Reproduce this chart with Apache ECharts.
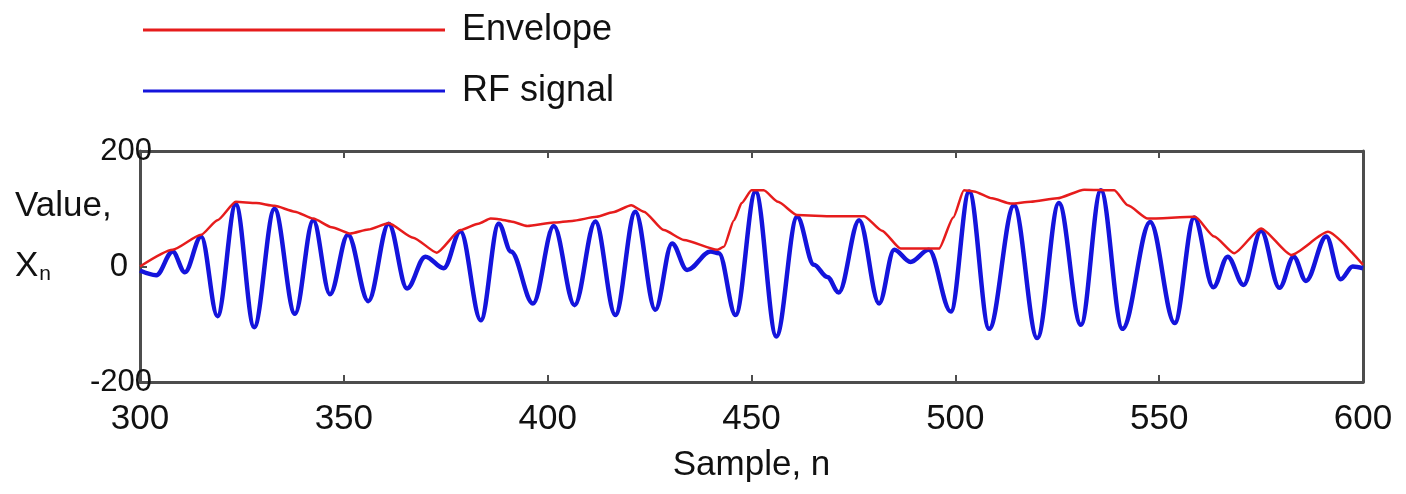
<!DOCTYPE html>
<html>
<head>
<meta charset="utf-8">
<title>RF signal and envelope</title>
<script src="https://cdn.jsdelivr.net/npm/echarts@6/dist/echarts.min.js"></script>
<style>
  html, body { margin: 0; padding: 0; background: #fff; }
  #chart { width: 1406px; height: 494px; }
</style>
</head>
<body>
<div id="chart"></div>
<script>
// sample index / value pairs (peaks, troughs, kinks)
const rfSamples = [300, 304, 308, 311, 315, 319, 323.5, 328, 333, 338, 342.5, 346.6, 351, 356, 361, 365.5, 370, 374.5, 378.6, 383.6,
  388, 391, 396.4, 401.5, 406.6, 411.7, 416.6, 421.5, 426.4, 430.5, 434.2, 440, 442, 446.1, 451, 456.1, 461.2, 465.3, 468.6, 471.4,
  476.4, 481.3, 485, 489, 493.5, 498.9, 503.4, 508.3, 514.4, 520.1, 525.4, 530.8, 535.7, 541, 547.8, 553.8, 558.6, 563.3, 566.8, 570.7,
  575, 579.5, 583, 586, 591, 594.5, 597.5, 600];
const rfValues = [-7, -15, 26, -10, 52, -86, 108, -105, 100, -82, 80, -48, 55, -60, 74, -38, 17, -3, 61, -93,
  74, 26, -64, 70, -67, 78, -84, 95, -75, 40, -6, 26, 23, -84, 130, -121, 86, 3, -18, -45,
  80, -64, 29, 8, 29, -78, 130, -108, 106, -124, 110, -101, 132, -108, 77, -98, 85, -36, 17, -32,
  62, -37, 17, -25, 52, -22, 0, -3];

const envSamples = [300, 308, 315, 319, 323.5, 328.5, 333, 338, 342.5, 347, 351.6, 356, 361, 367, 372.8, 378.6, 383, 386, 388, 391,
  395, 401.5, 406, 412, 416, 420.5, 423.6, 428.5, 433.4, 441.6, 443.2, 445.7, 447.6, 450, 453, 456.5, 461.2, 470, 477.6, 482,
  486.6, 496, 499.5, 502.1, 504.6, 509, 513.6, 518.5, 525, 531.6, 539, 542.3, 547.2, 558.8, 563.5, 568.4, 575, 582.4, 591.4, 600];
const envValues = [0, 29, 55, 80, 112, 110, 105, 95, 83, 68, 57, 64, 75, 50, 24, 63, 74, 83, 82, 78,
  70, 76, 79, 86, 94, 106, 95, 63, 46, 29, 34, 80, 110, 132, 132, 112, 89, 87, 87, 62,
  31, 31, 85, 132, 130, 118, 109, 112, 118, 133, 132, 106, 83, 86, 52, 23, 66, 20, 60, 3];

const xTicks = { min: 300, max: 600, step: 50 };
const yTicks = { min: -200, max: 200, step: 200 };

const font = 'Liberation Sans, Arial, sans-serif';
const axisColor = '#4d4d4d';
const textColor = '#111';

const pairs = (xs, ys) => xs.map((x, i) => [x, ys[i]]);

const chart = echarts.init(document.getElementById('chart'), null, { renderer: 'canvas' });

const xBase = {
    type: 'value',
    min: xTicks.min,
    max: xTicks.max,
    interval: xTicks.step,
    splitLine: { show: false },
    axisLine: { show: true, onZero: false, lineStyle: { color: axisColor, width: 3 } },
    axisTick: { show: true, inside: true, length: 7, lineStyle: { color: axisColor, width: 2 } }
};
const yBase = {
    type: 'value',
    min: yTicks.min,
    max: yTicks.max,
    interval: yTicks.step,
    splitLine: { show: false },
    axisLine: { show: true, onZero: false, lineStyle: { color: axisColor, width: 3 } },
    axisTick: { show: true, inside: true, length: 7, lineStyle: { color: axisColor, width: 2 } }
};

chart.setOption({
    backgroundColor: '#fff',
    animation: false,
    textStyle: { fontFamily: font },
    legend: {
        orient: 'vertical',
        left: 143,
        top: 12,
        padding: 0,
        itemWidth: 302,
        itemHeight: 3,
        itemGap: 25,
        icon: 'rect',
        data: ['Envelope', 'RF signal'],
        textStyle: { fontSize: 36, color: textColor, fontFamily: font, padding: [0, 0, 0, 12] }
    },
    grid: { left: 140, right: 43, top: 151, bottom: 112 },
    xAxis: [
        Object.assign({}, xBase, {
            position: 'bottom',
            name: 'Sample, n',
            nameLocation: 'middle',
            nameGap: 66,
            nameTextStyle: { fontSize: 35, color: textColor, fontFamily: font },
            axisLabel: { fontSize: 35, color: textColor, margin: 20, fontFamily: font }
        }),
        Object.assign({}, xBase, { position: 'top', axisLabel: { show: false } })
    ],
    yAxis: [
        Object.assign({}, yBase, {
            position: 'left',
            axisLabel: {
                fontSize: 31, color: textColor, margin: -12, fontFamily: font,
                formatter: v => v === 0 ? '{z|0}' : String(v),
                rich: { z: { fontSize: 33, color: textColor, fontFamily: font, padding: [0, 24, 0, 0] } }
            }
        }),
        Object.assign({}, yBase, { position: 'right', axisLabel: { show: false } })
    ],
    graphic: [
        {
            type: 'text',
            left: 15,
            top: 189,
            style: { text: 'Value,', font: '35px ' + font, fill: textColor }
        },
        {
            type: 'text',
            left: 15,
            top: 249,
            style: {
                text: '{x|X}{n|n}',
                rich: {
                    x: { font: '35px ' + font, fill: textColor },
                    n: { font: '21px ' + font, fill: textColor, padding: [16, 0, 0, 1] }
                }
            }
        }
    ],
    series: [
        {
            name: 'RF signal',
            type: 'line',
            data: pairs(rfSamples, rfValues),
            showSymbol: false,
            symbol: 'none',
            smooth: 0.35,
            smoothMonotone: 'x',
            color: '#1414dc',
            lineStyle: { color: '#1414dc', width: 4.5 },
            z: 2
        },
        {
            name: 'Envelope',
            type: 'line',
            data: pairs(envSamples, envValues),
            showSymbol: false,
            symbol: 'none',
            smooth: 0.2,
            smoothMonotone: 'x',
            color: '#e61c1c',
            lineStyle: { color: '#e61c1c', width: 2.5 },
            z: 3
        }
    ]
});
</script>
</body>
</html>
